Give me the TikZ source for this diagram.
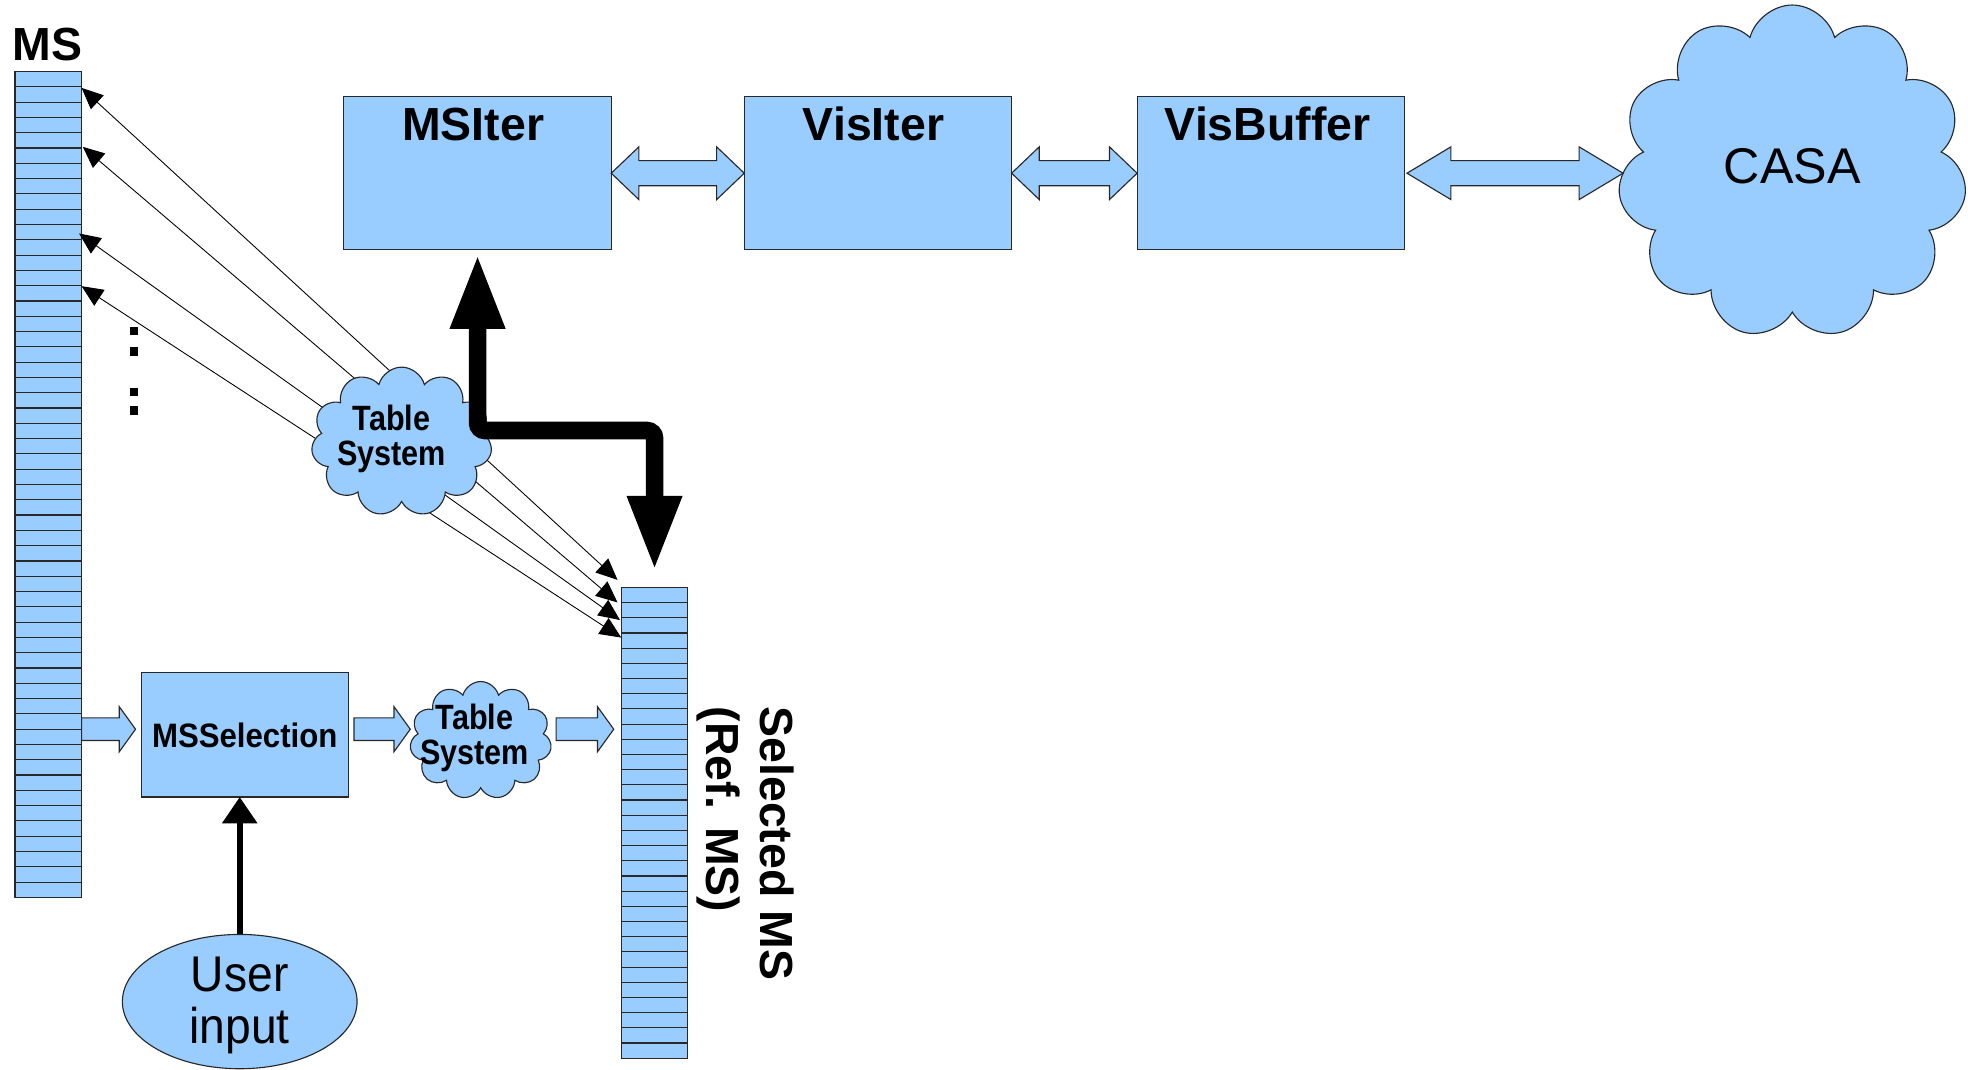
\documentclass[tikz,border=0pt]{standalone}
\usepackage{fontspec}
\setmainfont{Liberation Sans}
\usetikzlibrary{arrows.meta,shapes.symbols,shapes.geometric,calc}
\definecolor{lb}{RGB}{153,204,255}
\definecolor{edge}{RGB}{40,40,40}
\newcommand\cnd[2]{\scalebox{#1}[1]{#2}}
\newcommand\dblarrow[3]{%
  \path[blockarrow] let \p1=#1, \p2=#2 in
   (\x1,\y1) -- (\x1+#3,\y1+21pt) -- (\x1+#3,\y1+10pt) -- (\x2-#3,\y1+10pt)
   -- (\x2-#3,\y1+21pt) -- (\x2,\y1) -- (\x2-#3,\y1-21pt) -- (\x2-#3,\y1-10pt)
   -- (\x1+#3,\y1-10pt) -- (\x1+#3,\y1-21pt) -- cycle;}
\newcommand\rarrow[2]{%
  \path[blockarrow] let \p1=#1, \p2=#2 in
   (\x1,\y1+9pt) -- (\x2-13pt,\y1+9pt) -- (\x2-13pt,\y1+18pt) -- (\x2,\y1)
   -- (\x2-13pt,\y1-18pt) -- (\x2-13pt,\y1-9pt) -- (\x1,\y1-9pt) -- cycle;}
\begin{document}
\begin{tikzpicture}[x=1pt,y=-1pt,
  box/.style={draw=edge,fill=lb,line width=0.9pt,inner sep=0pt,outer sep=0pt},
  stripe/.style={draw=edge,line width=0.9pt},
  title/.style={font=\fontsize{37}{43}\selectfont\bfseries,inner sep=0pt},
  cloudtxt/.style={font=\fontsize{28}{28}\selectfont\bfseries,inner sep=0pt,align=center},
  cloudbox/.style={box,cloud,cloud puffs=11,cloud ignores aspect},
  blockarrow/.style={draw=edge,fill=lb,line width=0.9pt,line join=miter},
  link/.style={draw=black,line width=0.7pt,{Triangle[length=17pt,width=15pt]}-{Triangle[length=17pt,width=15pt]}},
  bigarrow/.style={line width=14pt,rounded corners=6pt,{Triangle[length=60pt,width=40pt]}-{Triangle[length=60pt,width=40pt]}},
  userarrow/.style={line width=5pt,-{Triangle[length=21pt,width=27pt]}},
  dot/.style={fill=black,inner sep=0pt,minimum size=6.5pt}
]
\useasboundingbox (0,0) rectangle (1568,852);

% MS column
\node[title,anchor=base] (mslabel) at (38,48) {MS};
\node[box,anchor=north west,minimum width=53pt,minimum height=658pt] (ms) at (12,57) {};
\foreach \i in {1,...,53}
  \draw[stripe] ($(ms.north west)+(0,\i*12.185)$) -- ($(ms.north east)+(0,\i*12.185)$);

% Selected MS column
\node[box,anchor=north west,minimum width=53pt,minimum height=375pt] (selms) at (495,468) {};
\foreach \i in {1,...,30}
  \draw[stripe] ($(selms.north west)+(0,\i*12.1)$) -- ($(selms.north east)+(0,\i*12.1)$);
\node[title,rotate=-90,align=left] (seltxt) at (594,672) {Selected MS\\(Ref. MS)};

% top boxes
\node[box,anchor=north west,minimum width=213pt,minimum height=122pt] (msiter) at (274,77) {};
\node[box,anchor=north west,minimum width=213pt,minimum height=122pt] (visiter) at (593,77) {};
\node[box,anchor=north west,minimum width=213pt,minimum height=122pt] (visbuffer) at (906,77) {};
\node[title,anchor=base] (t1) at (377,112) {MSIter};
\node[title,anchor=base] (t2) at (696,112) {VisIter};
\node[title,anchor=base] (t3) at (1010,112) {VisBuffer};

% CASA cloud
\node[cloudbox,minimum width=278pt,minimum height=266pt] (casa) at (1428,137) {};
\node[font=\fontsize{40}{44}\selectfont,inner sep=0pt,anchor=base] (casatxt) at (1428,146) {CASA};

% double block arrows
\dblarrow{(msiter.east)}{(visiter.west)}{22pt}
\dblarrow{(visiter.east)}{(visbuffer.west)}{22pt}
\coordinate (vb1) at ($(visbuffer.east)+(2,0)$);
\dblarrow{(vb1)}{(casa.west)}{35pt}

% links MS <-> Selected MS
\coordinate (a1) at (65,70);
\coordinate (a2) at (66,117);
\coordinate (a3) at (63,186);
\coordinate (a4) at (65,228);
\coordinate (b1) at (492,462);
\coordinate (b2) at (492,480);
\coordinate (b3) at (494,494);
\coordinate (b4) at (495,508);
\draw[link] (a1) -- (b1);
\draw[link] (a2) -- (b2);
\draw[link] (a3) -- (b3);
\draw[link] (a4) -- (b4);

% top table system cloud
\node[cloudbox,minimum width=144pt,minimum height=119pt] (ts1) at (320,352) {};
\node[cloudtxt] (ts1txt) at (312,350) {\cnd{0.87}{Table}\\\cnd{0.87}{System}};

% dots
\node[dot] (d1) at (107,264) {};
\node[dot] (d2) at (107,280) {};
\node[dot] (d3) at (107,312) {};
\node[dot] (d4) at (107,327) {};

% big L arrow
\draw[bigarrow] ([yshift=-3pt]msiter.south) -- (msiter.south |- 0,343) -- (selms.north |- 0,343) -- ([yshift=13pt]selms.north);

% MSSelection row
\node[box,anchor=north west,minimum width=165pt,minimum height=99pt] (msel) at (113,536) {};
\node[font=\fontsize{27}{30}\selectfont\bfseries,inner sep=0pt] (mseltxt) at (195,586) {\cnd{0.92}{MSSelection}};
\node[cloudbox,minimum width=113pt,minimum height=94pt] (ts2) at (383,590) {};
\node[cloudtxt] (ts2txt) at (378,588) {\cnd{0.87}{Table}\\\cnd{0.87}{System}};

\coordinate (r1a) at (ms.east |- 0,581);
\coordinate (r1b) at ($(msel.west |- 0,581)+(-5,0)$);
\coordinate (r2a) at ($(msel.east |- 0,581)+(4,0)$);
\coordinate (r2b) at ($(ts2.west |- 0,581)+(-1,0)$);
\coordinate (r3a) at ($(ts2.east |- 0,581)+(5,0)$);
\coordinate (r3b) at ($(selms.west |- 0,581)+(-6,0)$);
\rarrow{(r1a)}{(r1b)}
\rarrow{(r2a)}{(r2b)}
\rarrow{(r3a)}{(r3b)}

% user input
\node[box,ellipse,minimum width=187pt,minimum height=107pt] (user) at (191,798) {};
\node[font=\fontsize{40}{42}\selectfont,inner sep=0pt,align=center] (usertxt) at (191,801) {\cnd{0.92}{User}\\\cnd{0.92}{input}};
\draw[userarrow] (user.north) -- (user.north |- msel.south);
\end{tikzpicture}
\end{document}
